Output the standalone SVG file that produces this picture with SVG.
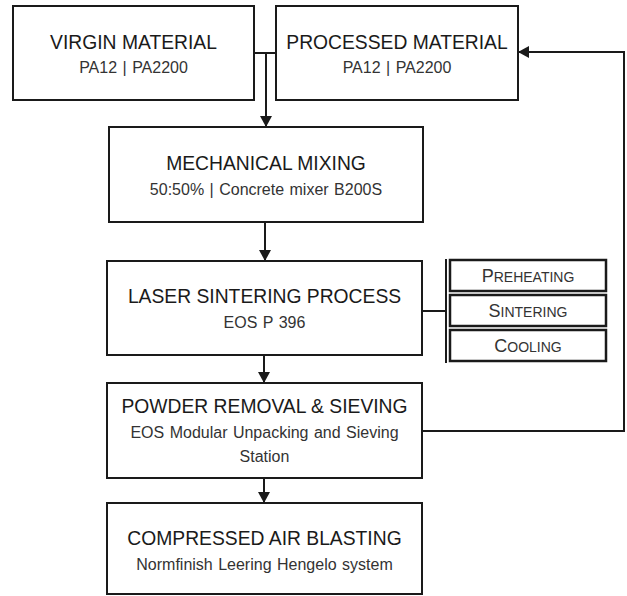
<svg xmlns="http://www.w3.org/2000/svg" width="627" height="596" viewBox="0 0 627 596">
<style>
.box{fill:#fff;stroke:#1a1a1a;stroke-width:2}
.sub{fill:#fff;stroke:#1a1a1a;stroke-width:2.5}
.t{font-family:"Liberation Sans",Arial,sans-serif;font-size:19.3px;fill:#1a1a1a;text-anchor:middle}
.s{font-family:"Liberation Sans",Arial,sans-serif;font-size:16px;word-spacing:1px;fill:#333;text-anchor:middle}
.sc{font-family:"Liberation Sans",Arial,sans-serif;font-size:14px;fill:#333;text-anchor:middle}
.big{font-size:18px}
.c{fill:none;stroke:#1a1a1a;stroke-width:2}
</style>
<defs>
<marker id="ah" markerUnits="userSpaceOnUse" markerWidth="12" markerHeight="12" refX="11" refY="6" orient="auto">
<path d="M0,0 L11,6 L0,12 z" fill="#1a1a1a"/>
</marker>
</defs>
<g id="connectors">
<path class="c" d="M254,53 H276"/>
<path class="c" d="M266,53 V127" marker-end="url(#ah)"/>
<path class="c" d="M265,222 V261" marker-end="url(#ah)"/>
<path class="c" d="M264,355 V383" marker-end="url(#ah)"/>
<path class="c" d="M264,478 V503" marker-end="url(#ah)"/>
<path class="c" d="M421,431 H624 V52 H518" marker-end="url(#ah)"/>
<path class="c" d="M421,311 H446"/>
<path class="c" d="M446,259 V363"/>
</g>
<g id="virgin">
<rect class="box" x="13" y="6" width="241" height="94"/>
<text class="t" x="133.5" y="49">VIRGIN MATERIAL</text>
<text class="s" x="133.5" y="73">PA12 | PA2200</text>
</g>
<g id="processed">
<rect class="box" x="276" y="6" width="242" height="94"/>
<text class="t" x="397" y="49">PROCESSED MATERIAL</text>
<text class="s" x="397" y="73">PA12 | PA2200</text>
</g>
<g id="mixing">
<rect class="box" x="109" y="127" width="314" height="95"/>
<text class="t" x="266" y="170">MECHANICAL MIXING</text>
<text class="s" x="266" y="195">50:50% | Concrete mixer B200S</text>
</g>
<g id="laser">
<rect class="box" x="107" y="261" width="315" height="94"/>
<text class="t" x="264.5" y="303">LASER SINTERING PROCESS</text>
<text class="s" x="264.5" y="328">EOS P 396</text>
</g>
<g id="preheating">
<rect class="sub" x="450" y="260" width="156" height="31"/>
<text class="sc" x="528" y="281.5"><tspan class="big">P</tspan>REHEATING</text>
</g>
<g id="sintering">
<rect class="sub" x="450" y="295" width="156" height="31"/>
<text class="sc" x="528" y="316.5"><tspan class="big">S</tspan>INTERING</text>
</g>
<g id="cooling">
<rect class="sub" x="450" y="330" width="156" height="31"/>
<text class="sc" x="528" y="351.5"><tspan class="big">C</tspan>OOLING</text>
</g>
<g id="powder">
<rect class="box" x="107" y="383" width="315" height="95"/>
<text class="t" x="264.5" y="413">POWDER REMOVAL &amp; SIEVING</text>
<text class="s" x="264.5" y="438">EOS Modular Unpacking and Sieving</text>
<text class="s" x="264.5" y="462">Station</text>
</g>
<g id="compressed">
<rect class="box" x="107" y="503" width="315" height="91"/>
<text class="t" x="264.5" y="545">COMPRESSED AIR BLASTING</text>
<text class="s" x="264.5" y="570">Normfinish Leering Hengelo system</text>
</g>
</svg>
